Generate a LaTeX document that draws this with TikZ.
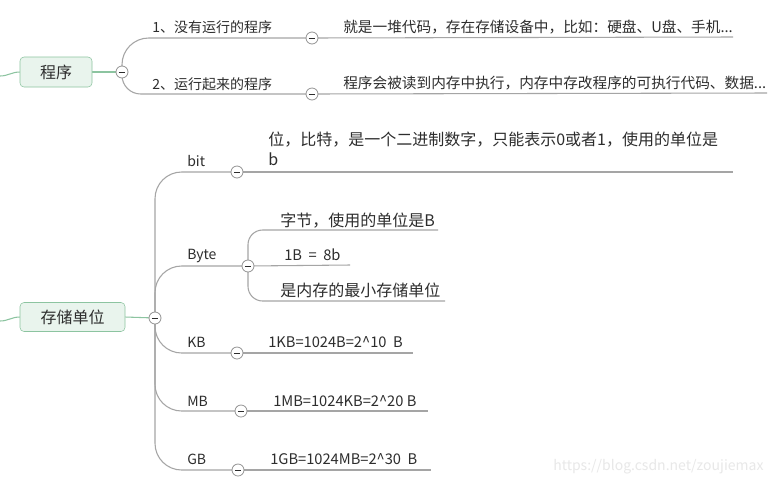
\documentclass[tikz,border=0pt]{standalone}
\usepackage{fontspec}
\setmainfont{Noto Sans CJK SC}
\usetikzlibrary{positioning,backgrounds}
\definecolor{linegray}{RGB}{165,165,165}
\definecolor{topicgreen}{RGB}{140,196,160}
\definecolor{topicfill}{RGB}{233,244,237}
\definecolor{textdark}{RGB}{45,45,45}

\begin{document}
\begin{tikzpicture}[x=0.75pt, y=-0.75pt,
        topic/.style={rectangle, draw=topicgreen, fill=topicfill, rounded corners=3pt,
                      inner sep=0pt, text=textdark, font=\fontsize{12}{14}\selectfont},
        fold/.style={circle, draw=gray!85, fill=white, minimum size=9pt, inner sep=0pt,
                     line width=0.6pt,
                     path picture={\draw[textdark, line width=0.7pt]
                        ([xshift=-2.3pt]path picture bounding box.center) --
                        ([xshift=2.3pt]path picture bounding box.center);}},
        sub/.style={anchor=base west, inner sep=0pt, text=textdark,
                    font=\fontsize{10.5}{12}\selectfont},
        leaf/.style={anchor=base west, inner sep=0pt, text=textdark,
                     font=\fontsize{11}{13}\selectfont},
        bigleaf/.style={anchor=base west, inner sep=0pt, text=textdark,
                        font=\fontsize{12}{15}\selectfont},
        branch/.style={draw=linegray, line width=0.8pt, rounded corners=20pt},
        twig/.style={draw=linegray, line width=0.8pt, rounded corners=11pt},
        rootline/.style={draw=topicgreen, line width=0.8pt}
    ]

    \useasboundingbox (0,0) rectangle (780,483);

    %% ── 程序 ────────────────────────────────────────────────────────────────
    \coordinate (rt1) at (0,76);
    \node[topic, minimum width=54pt, minimum height=22.5pt] (prog) at (56,72) {程序};
    \node[fold] (c1)  at (122,72) {};
    \node[fold] (c11) at (312,38) {};
    \node[fold] (c12) at (312,94) {};
    \coordinate (e11) at (733,37);
    \coordinate (e12) at (767,93);

    \node[sub]  (s11) at (152,32) {1、没有运行的程序};
    \node[sub]  (s12) at (152,89) {2、运行起来的程序};
    \node[leaf] (d11) at (343,32) {就是一堆代码，存在存储设备中，比如：硬盘、U盘、手机...};
    \node[leaf] (d12) at (343,88) {程序会被读到内存中执行，内存中存改程序的可执行代码、数据...};

    %% ── 存储单位 ────────────────────────────────────────────────────────────
    \coordinate (rt2) at (0,321);
    \node[topic, minimum width=78.75pt, minimum height=21.75pt] (unit) at (72.5,317) {存储单位};
    \node[fold] (c2)    at (155,318) {};
    \node[fold] (cbit)  at (237,172) {};
    \node[fold] (cbyte) at (248,266) {};
    \node[fold] (ckb)   at (237,353) {};
    \node[fold] (cmb)   at (241,411) {};
    \node[fold] (cgb)   at (238,470) {};

    \coordinate (ebit)  at (733,172);
    \coordinate (eb1)   at (438,230);
    \coordinate (eb2)   at (350,265);
    \coordinate (eb3)   at (445,301);
    \coordinate (ekb)   at (413,353);
    \coordinate (emb)   at (428,411);
    \coordinate (egb)   at (431,470);

    \node[sub] (sbit)  at (187,166) {bit};
    \node[sub] (sbyte) at (187,259) {Byte};
    \node[sub] (skb)   at (187,347) {KB};
    \node[sub] (smb)   at (187,406) {MB};
    \node[sub] (sgb)   at (187,464) {GB};

    \node[bigleaf, anchor=north west, align=left] (dbit) at (268,132)
        {位，比特，是一个二进制数字，只能表示0或者1，使用的单位是\\b};
    \node[bigleaf] (db1) at (280,226) {字节，使用的单位是B};
    \node[leaf]    (db2) at (284,260) {1B\ \ =\ \ 8b};
    \node[bigleaf] (db3) at (280,296) {是内存的最小存储单位};
    \node[leaf] (dkb) at (268,347) {1KB=1024B=2\textasciicircum10\ \ B};
    \node[leaf] (dmb) at (273,406) {1MB=1024KB=2\textasciicircum20 B};
    \node[leaf] (dgb) at (270,464) {1GB=1024MB=2\textasciicircum30\ \ B};

    %% watermark
    \node[anchor=base west, inner sep=0pt, text=gray!18,
          font=\fontsize{10.5}{12}\selectfont] (mark) at (553,470)
        {https://blog.csdn.net/zoujiemax};

    %% ── connectors, under the fold circles ──────────────────────────────────
    \begin{pgfonlayer}{background}
    \fill[white] (0,0) rectangle (780,483);

    \draw[rootline] (rt1) to[out=0,in=180] (prog.west);
    \draw[rootline] (prog.east) -- (c1.center);
    \draw[branch] (c1.center) |- (c11.center);
    \draw[branch, rounded corners=14pt] (c1.center) |- (c12.center);
    \draw[branch] (c11.center) -- (e11);
    \draw[branch] (c12.center) -- (e12);

    \draw[rootline] (rt2) to[out=0,in=180] (unit.west);
    \draw[rootline] (unit.east) -- (c2.center);
    \draw[branch] (c2.center) |- (cbit.center);
    \draw[branch] (c2.center) |- (cbyte.center);
    \draw[branch] (c2.center) |- (ckb.center);
    \draw[branch] (c2.center) |- (cmb.center);
    \draw[branch] (c2.center) |- (cgb.center);

    \draw[branch] (cbit.center) -- (ebit);
    \draw[twig] (cbyte.center) |- (eb1);
    \draw[twig] (cbyte.center) -- (eb2);
    \draw[twig] (cbyte.center) |- (eb3);
    \draw[branch] (ckb.center) -- (ekb);
    \draw[branch] (cmb.center) -- (emb);
    \draw[branch] (cgb.center) -- (egb);
    \end{pgfonlayer}

\end{tikzpicture}
\end{document}
